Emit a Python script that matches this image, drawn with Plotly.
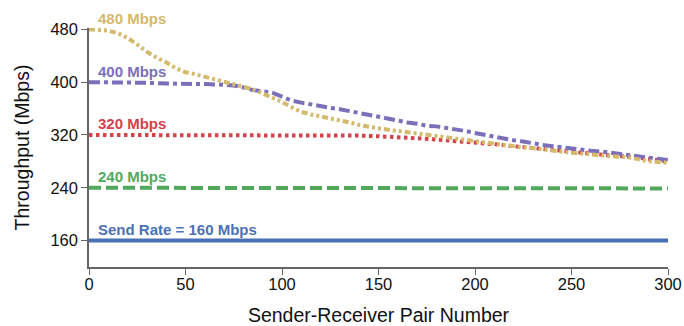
import plotly.graph_objects as go

# ---- data ----
gold_x = [0, 5, 10, 15, 20, 25, 30, 35, 40, 45, 50, 55, 60, 65, 70, 75, 80, 85, 90, 95,
          100, 105, 110, 115, 120, 125, 130, 135, 140, 145, 150, 155, 160, 165, 170, 175,
          180, 185, 190, 195, 200, 205, 210, 215, 220, 225, 230, 235, 240, 245, 250, 255,
          260, 265, 270, 275, 280, 285, 290, 295, 300]
gold_y = [480, 479, 478, 474, 467, 457, 446, 437, 430, 421, 415, 412, 408, 404, 401, 397,
          393, 389, 383, 377, 370, 362, 355, 351, 348, 345, 343, 339, 335, 332, 330, 328,
          326, 325, 323, 321, 318, 316, 314, 313, 311, 309, 307, 305, 303, 301, 300, 298,
          296, 295, 293, 292, 290, 289, 288, 287, 286, 283, 280, 279, 278]

purple_x = [0, 10, 20, 30, 40, 50, 60, 70, 75, 80, 85, 90, 95, 100, 105, 110, 115, 120,
            125, 130, 135, 140, 145, 150, 155, 160, 165, 170, 175, 180, 185, 190, 195, 200,
            205, 210, 215, 220, 225, 230, 235, 240, 245, 250, 255, 260, 265, 270, 275, 280,
            285, 290, 295, 300]
purple_y = [400, 400, 399, 399, 398, 398, 397, 396, 395, 392, 388, 386, 384, 378, 372, 369,
            366, 363, 361, 359, 356, 353, 350, 347, 345, 341, 339, 337, 334, 333, 331, 328,
            326, 323, 320, 317, 315, 312, 310, 307, 305, 303, 301, 299, 297, 296, 295, 293,
            291, 290, 288, 286, 283, 282]

red_x = [0, 50, 100, 140, 150, 160, 170, 180, 190, 200, 210, 220, 230, 240, 250, 260, 270,
         280, 290, 300]
red_y = [320, 320, 320, 319, 318, 317, 315, 313, 311, 309, 306, 303, 300, 297, 294, 291,
         289, 287, 284, 280]

green_x = [0, 300]
green_y = [240, 239]

blue_x = [0, 300]
blue_y = [160, 160]

labels = ["480 Mbps", "400 Mbps", "320 Mbps", "240 Mbps", "Send Rate = 160 Mbps"]
label_vals = [480, 400, 320, 240, 160]

x_ticks = [0, 50, 100, 150, 200, 250, 300]
y_ticks = [160, 240, 320, 400, 480]

GOLD = "#D4BA6C"
PURPLE = "#7B6FBA"
RED = "#D2434A"
GREEN = "#52A95E"
BLUE = "#4A71B6"

FONT = "Liberation Sans, Arial, sans-serif"

fig = go.Figure()
fig.add_trace(go.Scatter(x=blue_x, y=blue_y, mode="lines",
                         line=dict(color=BLUE, width=4)))
fig.add_trace(go.Scatter(x=green_x, y=green_y, mode="lines",
                         line=dict(color=GREEN, width=4, dash="12px,5px")))
fig.add_trace(go.Scatter(x=red_x, y=red_y, mode="lines",
                         line=dict(color=RED, width=4, dash="3.5px,3.5px")))
fig.add_trace(go.Scatter(x=purple_x, y=purple_y, mode="lines",
                         line=dict(color=PURPLE, width=4, dash="11px,4px,4px,4px")))
fig.add_trace(go.Scatter(x=gold_x, y=gold_y, mode="lines",
                         line=dict(color=GOLD, width=4, dash="6px,3px,3px,3px,3px,3px")))

for txt, v, c in zip(labels, label_vals, [GOLD, PURPLE, RED, GREEN, BLUE]):
    fig.add_annotation(x=3.5, y=v, text="<b>%s</b>" % txt, showarrow=False,
                       xanchor="left", yanchor="middle", yshift=11,
                       font=dict(family=FONT, size=15, color=c))

fig.update_layout(
    width=684, height=326,
    margin=dict(l=89, r=16, t=28, b=59),
    paper_bgcolor="white", plot_bgcolor="white",
    showlegend=False,
    font=dict(family=FONT, color="#111111"),
)
fig.update_xaxes(range=[0, 300], tickvals=x_ticks, ticks="outside", ticklen=6,
                 tickcolor="#666666", showline=True, linecolor="#666666", linewidth=1.5,
                 showgrid=False, zeroline=False, tickfont=dict(size=16.5), automargin=False,
                 ticklabelstandoff=-5,
                 title=dict(text="Sender-Receiver Pair Number", font=dict(size=19.5), standoff=26))
fig.update_yaxes(range=[120, 482], tickvals=y_ticks, ticks="outside", ticklen=6,
                 tickcolor="#666666", showline=True, linecolor="#666666", linewidth=1.5,
                 showgrid=False, zeroline=False, tickfont=dict(size=16.5), automargin=False,
                 title=dict(text="Throughput (Mbps)", font=dict(size=19.5), standoff=16))

fig.write_html("out.html", config={"displayModeBar": False},
               post_script="document.body.style.margin='0';document.body.style.overflow='hidden';")
